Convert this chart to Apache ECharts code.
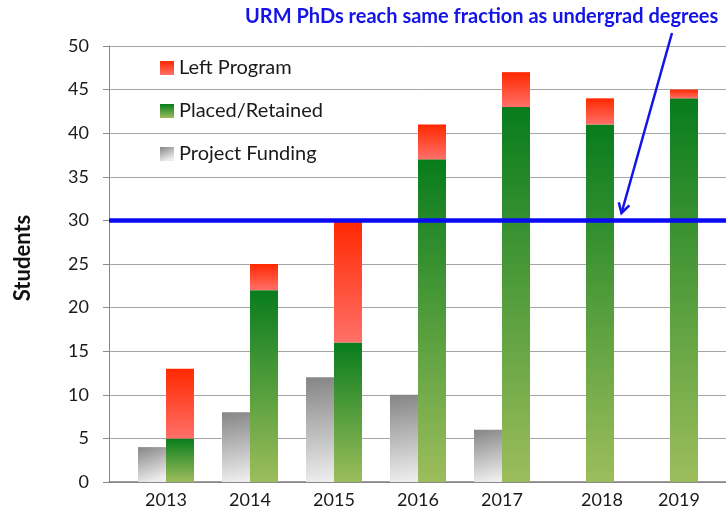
<!DOCTYPE html>
<html>
<head>
<meta charset="utf-8">
<script src="https://cdn.jsdelivr.net/npm/echarts@6/dist/echarts.min.js"></script>
<style>
html,body{margin:0;padding:0;background:#fff;}
#chart{width:726px;height:512px;}
</style>
</head>
<body>
<div id="chart"></div>
<script>
const years = ['2013','2014','2015','2016','2017','2018','2019'];
const projectFunding = [4, 8, 12, 10, 6, null, null];
const placedRetained = [5, 22, 16, 37, 43, 41, 44];
const leftProgram = [8, 3, 14, 4, 4, 3, 1];
const yTicks = [0, 5, 10, 15, 20, 25, 30, 35, 40, 45, 50];
const threshold = 30;
const annotation = 'URM PhDs reach same fraction as undergrad degrees';
const yAxisName = 'Students';

const FONT = 'Lato';
const chart = echarts.init(document.getElementById('chart'), null, {renderer: 'canvas'});

const grayGrad = new echarts.graphic.LinearGradient(0, 0, 0.45, 1, [
  {offset: 0, color: '#858585'}, {offset: 1, color: '#ededed'}]);
const greenGrad = new echarts.graphic.LinearGradient(0, 0, 0, 1, [
  {offset: 0, color: '#087c1c'}, {offset: 1, color: '#9dbd5c'}]);
const redGrad = new echarts.graphic.LinearGradient(0, 0, 0, 1, [
  {offset: 0, color: '#ff2800'}, {offset: 1, color: '#ff7068'}]);

// label shifts (px) for categories whose label sits off-centre in the reference
const labelShift = {'2018': 32, '2019': 18};
const rich = {n: {fontSize: 18, fontFamily: FONT, color: '#1a1a1a'}};
Object.keys(labelShift).forEach(k => {
  rich['s' + k] = {fontSize: 18, fontFamily: FONT, color: '#1a1a1a', padding: [0, 0, 0, labelShift[k]]};
});

// arrow geometry
const tip = [621.5, 213], tail = [672, 33];
const dx = tail[0] - tip[0], dy = tail[1] - tip[1];
const L = Math.hypot(dx, dy), ux = dx / L, uy = dy / L;
const ang = 30 * Math.PI / 180, arm = 11;
function rot(a) { return [ux * Math.cos(a) - uy * Math.sin(a), ux * Math.sin(a) + uy * Math.cos(a)]; }
const a1 = rot(ang), a2 = rot(-ang);

chart.setOption({
  animation: false,
  backgroundColor: '#ffffff',
  textStyle: {fontFamily: FONT},
  title: {
    text: annotation, left: 245, top: 7, padding: 0,
    textStyle: {fontSize: 20, fontWeight: 'bold', color: '#1414e6', fontFamily: FONT}
  },
  legend: {
    orient: 'vertical', left: 160, top: 58, padding: 0,
    itemWidth: 14, itemHeight: 14, itemGap: 23, icon: 'rect',
    data: ['Left Program', 'Placed/Retained', 'Project Funding'],
    textStyle: {fontSize: 20, color: '#1a1a1a', fontFamily: FONT}
  },
  grid: [
    {left: 109, right: 0, top: 46, bottom: 30, containLabel: false},
    {left: 124, width: 588, top: 46, bottom: 30, containLabel: false}
  ],
  xAxis: [
    {gridIndex: 0, type: 'value', min: 0, max: 1,
     axisLine: {show: true, lineStyle: {color: '#7f7f7f', width: 1.5}},
     axisTick: {show: false}, axisLabel: {show: false}, splitLine: {show: false}},
    {gridIndex: 1, type: 'category', data: years,
     axisLine: {show: false}, axisTick: {show: false},
     axisLabel: {interval: 0, margin: 9, fontSize: 18, fontFamily: FONT, color: '#1a1a1a',
       formatter: v => labelShift[v] ? '{s' + v + '|' + v + '}' : '{n|' + v + '}', rich: rich}}
  ],
  yAxis: [
    {gridIndex: 0, type: 'value', min: 0, max: 50, interval: 5,
     name: yAxisName, nameLocation: 'middle', nameGap: 75, nameRotate: 90,
     nameTextStyle: {fontSize: 22, fontWeight: 'bold', color: '#111', fontFamily: FONT,
       padding: [0, 0, 0, 12]},
     axisLine: {show: true, lineStyle: {color: '#8a8a8a'}},
     axisTick: {show: true, length: 6, lineStyle: {color: '#8a8a8a'}},
     axisLabel: {margin: 20, fontSize: 18, color: '#1a1a1a', fontFamily: FONT,
       formatter: v => yTicks.indexOf(v) >= 0 ? String(v) : ''},
     splitLine: {show: true, lineStyle: {color: '#a6a6a6', width: 1}}},
    {gridIndex: 1, type: 'value', min: 0, max: 50, interval: 5, show: false,
     splitLine: {show: false}}
  ],
  series: [
    {name: 'Project Funding', type: 'bar', xAxisIndex: 1, yAxisIndex: 1,
     data: projectFunding, barWidth: 28, barGap: '0%', itemStyle: {color: grayGrad}},
    {name: 'Placed/Retained', type: 'bar', stack: 'students', xAxisIndex: 1, yAxisIndex: 1,
     data: placedRetained, barWidth: 28, barGap: '0%', itemStyle: {color: greenGrad}},
    {name: 'Left Program', type: 'bar', stack: 'students', xAxisIndex: 1, yAxisIndex: 1,
     data: leftProgram, barWidth: 28, barGap: '0%', itemStyle: {color: redGrad}},
    {name: 'threshold', type: 'line', xAxisIndex: 0, yAxisIndex: 0, z: 5,
     data: [[0, threshold], [1, threshold]], symbol: 'none', silent: true,
     lineStyle: {color: '#0a0af2', width: 4.5}}
  ],
  graphic: [
    {type: 'line', z: 10, shape: {x1: tail[0], y1: tail[1], x2: tip[0], y2: tip[1]},
     style: {stroke: '#1414e6', lineWidth: 2.5}},
    {type: 'polyline', z: 10, shape: {points: [
       [tip[0] + a1[0] * arm, tip[1] + a1[1] * arm], tip, [tip[0] + a2[0] * arm, tip[1] + a2[1] * arm]]},
     style: {stroke: '#1414e6', lineWidth: 2.5, fill: null}}
  ]
});
</script>
</body>
</html>
